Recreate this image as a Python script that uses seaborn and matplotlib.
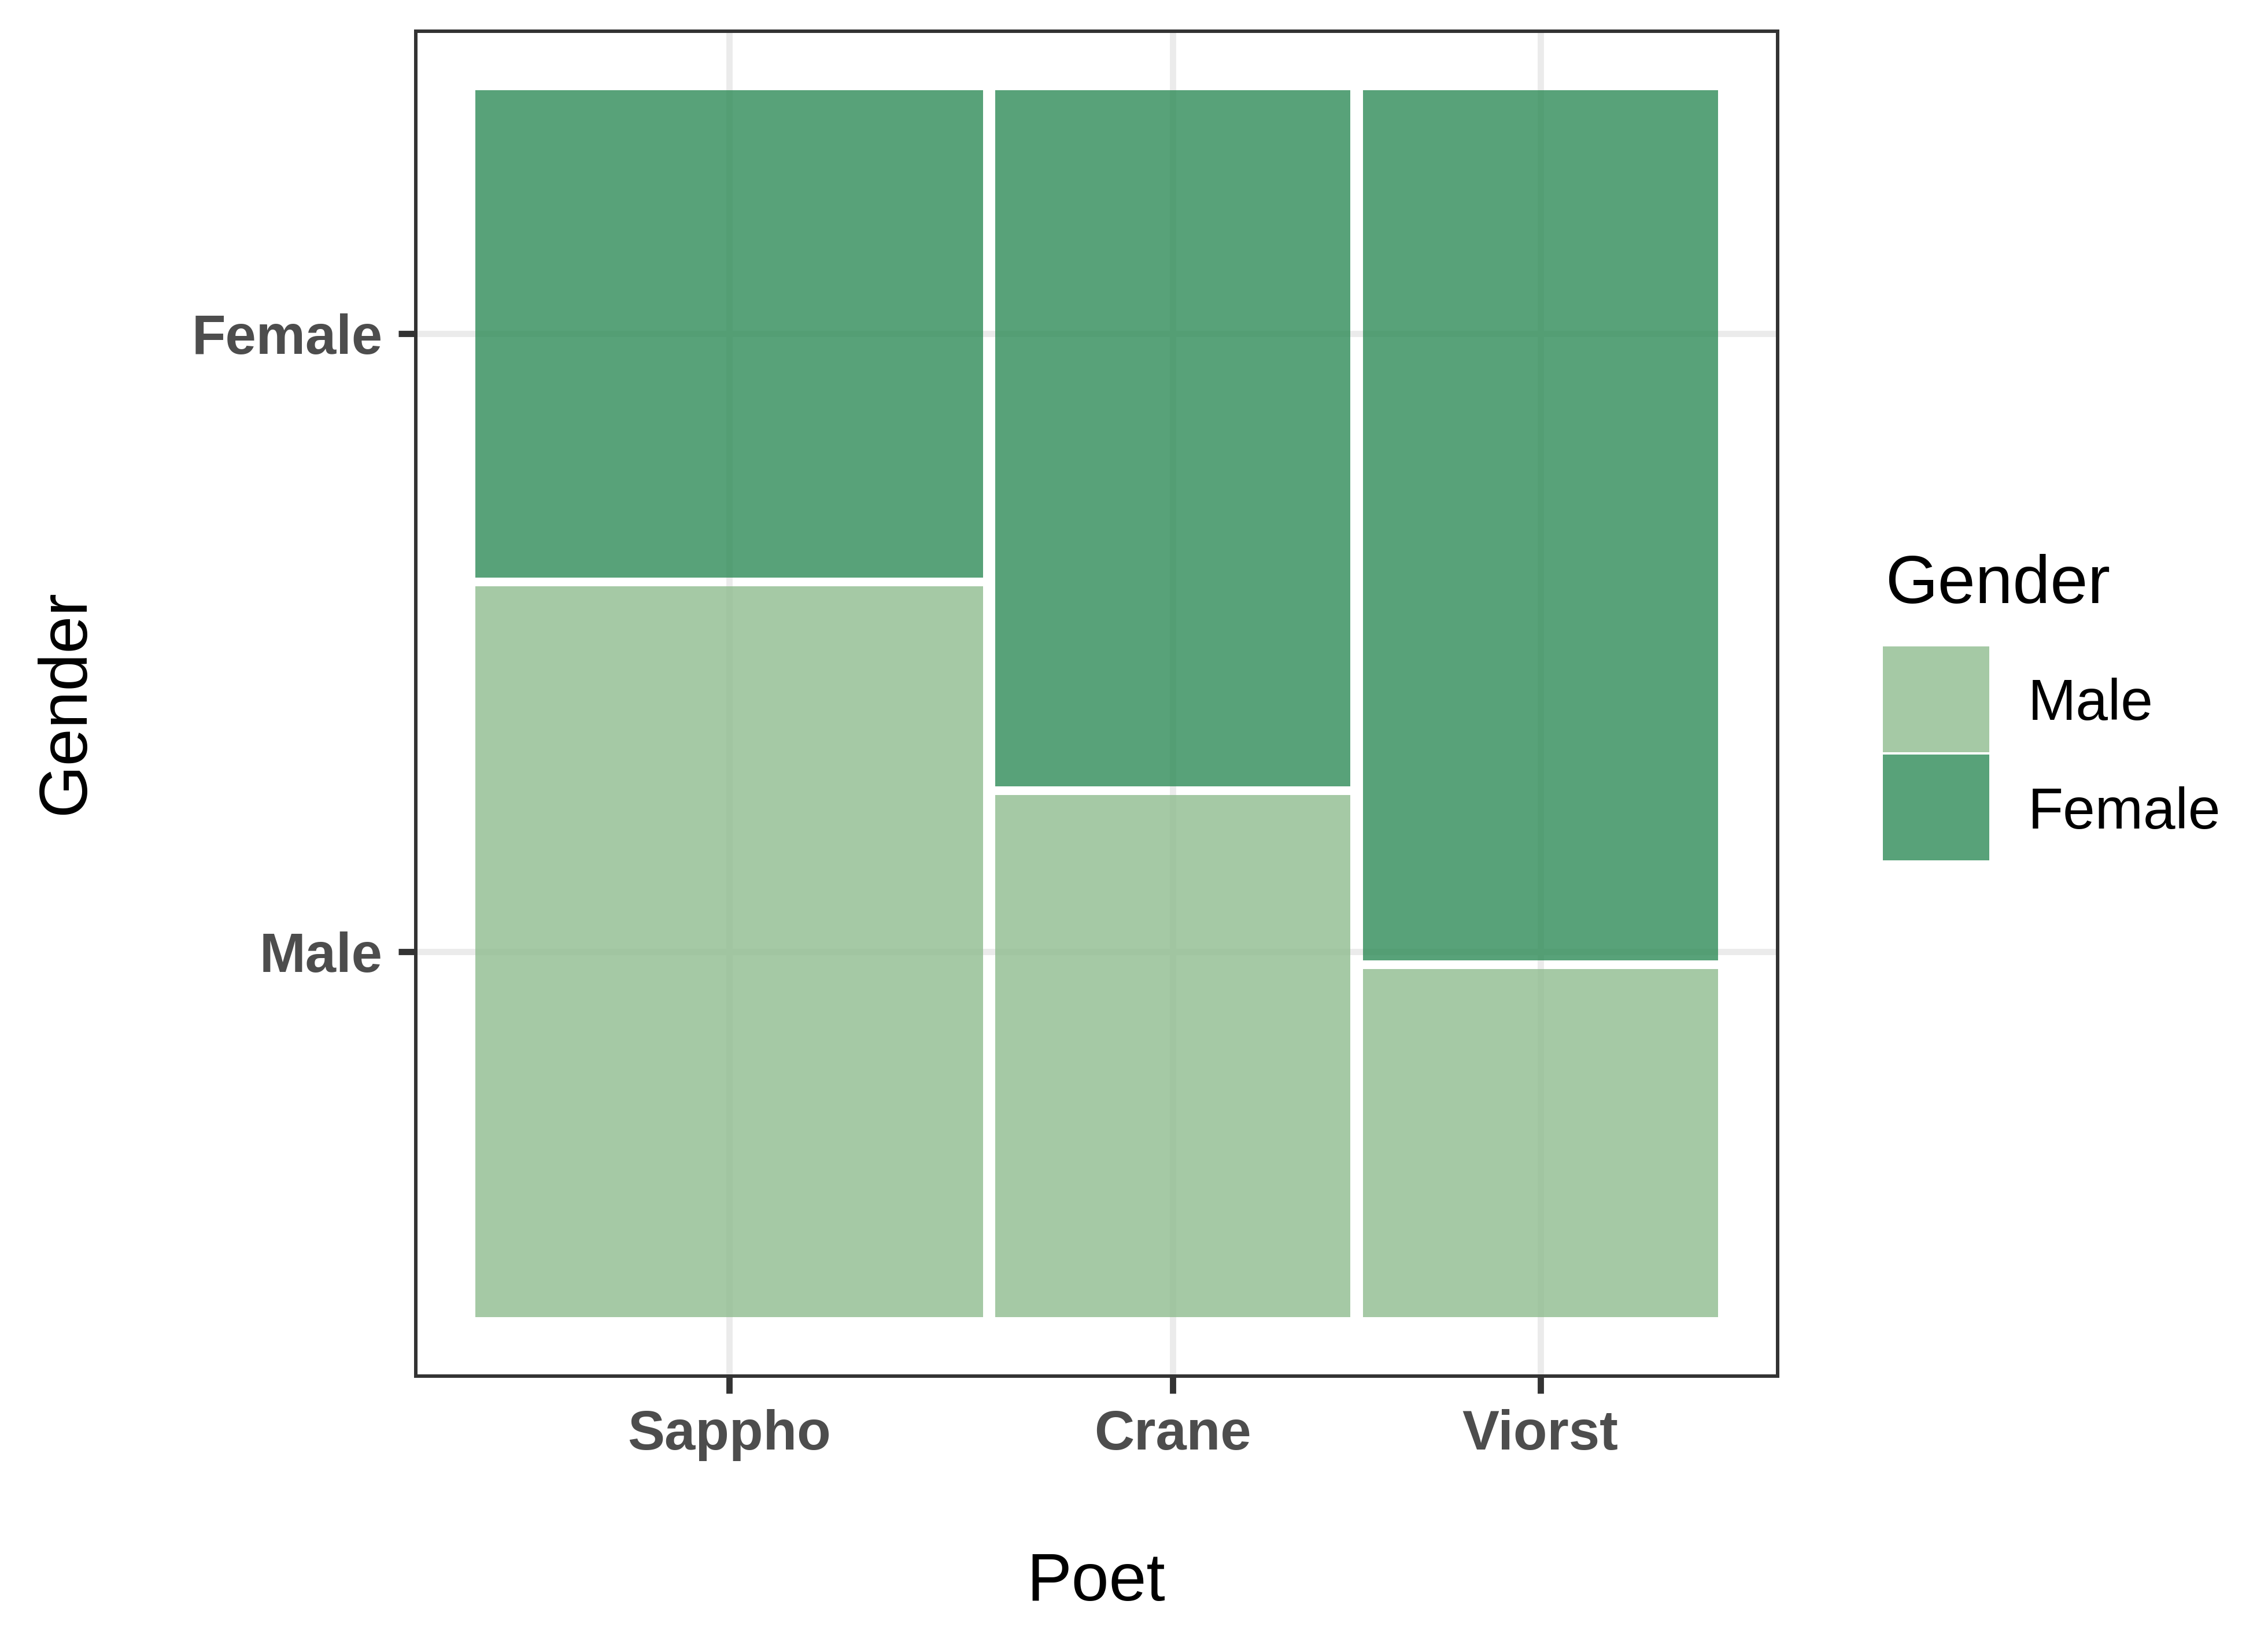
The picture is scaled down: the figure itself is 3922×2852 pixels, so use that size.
import numpy as np
import pandas as pd
import matplotlib.pyplot as plt
import matplotlib.patches as mpatches
import seaborn as sns

poets = ["Sappho", "Crane", "Viorst"]
genders = ["Male", "Female"]
male_counts = [6, 3, 2]
female_counts = [4, 4, 5]

df = pd.DataFrame({"poet": poets, "Male": male_counts, "Female": female_counts}).set_index("poet")

palette = {"Male": "#8fbc8f", "Female": "#2e8b57"}
alpha = 0.8

sns.set_theme(style="white")
plt.rcParams["font.family"] = ["Liberation Sans", "DejaVu Sans"]

W, H = 3922, 2852
fig = plt.figure(figsize=(W / 300, H / 300), dpi=300)
ax = fig.add_axes([719 / W, 1 - 2380 / H, (3074 - 719) / W, (2380 - 54) / H])

# Mosaic layout: column widths by poet totals, segment heights by share
gap_x, gap_y = 0.01, 0.007
totals = df.sum(axis=1)
widths = (1 - gap_x * (len(poets) - 1)) * totals / totals.sum()
lefts = np.concatenate([[0], np.cumsum(widths.values + gap_x)[:-1]])

x_ticks = []
y_ticks = []
for i, poet in enumerate(poets):
    bottom = 0
    props = df.loc[poet] / totals[poet]
    x_ticks.append(lefts[i] + widths.iloc[i] / 2)
    for g in genders:
        h = (1 - gap_y * (len(genders) - 1)) * props[g]
        ax.bar(lefts[i], h, width=widths.iloc[i], bottom=bottom, align="edge",
               color=palette[g], alpha=alpha, linewidth=0, zorder=2)
        if i == 0:
            y_ticks.append(bottom + h / 2)
        bottom += h + gap_y

ax.set_xlim(-0.048, 1.048)
ax.set_ylim(-0.048, 1.048)
ax.set_xticks(x_ticks)
ax.set_xticklabels(poets, fontweight="bold")
ax.set_yticks(y_ticks)
ax.set_yticklabels(genders, fontweight="bold")

ax.set_axisbelow(True)
ax.grid(True, color="#ebebeb", linewidth=2.6, zorder=0)
for s in ax.spines.values():
    s.set_color("#333333")
    s.set_linewidth(1.44)
ax.tick_params(bottom=True, left=True, length=7.2, width=2.6, color="#333333",
               pad=6.5, labelsize=23, labelcolor="#4d4d4d")

ax.set_xlabel("Poet", fontsize=28, color="black", va="baseline")
ax.xaxis.set_label_coords(1895 / W, 1 - 2768 / H, transform=fig.transFigure)
ax.set_ylabel("Gender", fontsize=28, color="black", va="baseline")
ax.yaxis.set_label_coords(145 / W, 1 - 1214 / H, transform=fig.transFigure)

# Legend drawn by hand to match the ggplot key layout
fig.text(3260 / W, 1 - 1043 / H, "Gender", fontsize=28, color="black",
         ha="left", va="baseline")
key_tops = [1118, 1305]
baselines = [1245, 1433]
for g, top, base in zip(genders, key_tops, baselines):
    fig.patches.append(mpatches.Rectangle((3256 / W, 1 - (top + 183) / H), 184 / W, 183 / H,
                                          transform=fig.transFigure, facecolor=palette[g],
                                          alpha=alpha, linewidth=0))
    fig.text(3507 / W, 1 - base / H, g, fontsize=24, color="black", ha="left", va="baseline")

fig.savefig("out.png", dpi=300)
